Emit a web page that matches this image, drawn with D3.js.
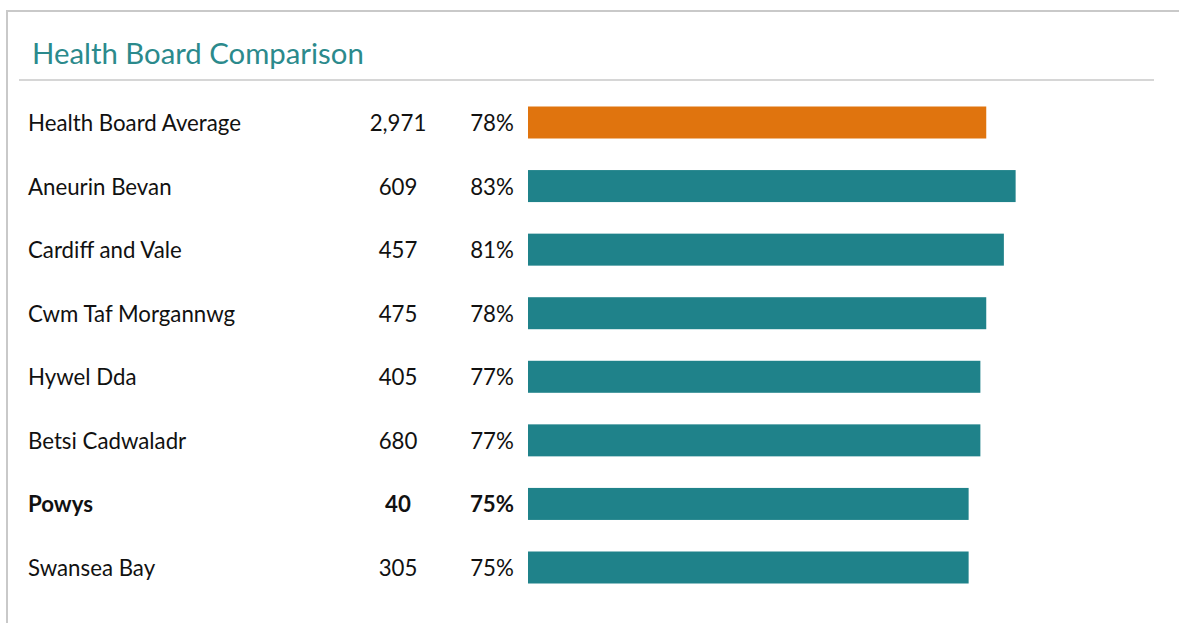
<!DOCTYPE html>
<html>
<head>
<meta charset="utf-8">
<script src="https://cdn.jsdelivr.net/npm/d3@7"></script>
<style>
html,body{margin:0;padding:0;background:#fff;}
svg{display:block;}
</style>
</head>
<body>
<svg id="chart" width="1179" height="623"></svg>
<script>
const title = "Health Board Comparison";
const categories = ["Health Board Average","Aneurin Bevan","Cardiff and Vale","Cwm Taf Morgannwg","Hywel Dda","Betsi Cadwaladr","Powys","Swansea Bay"];
const counts = [2971, 609, 457, 475, 405, 680, 40, 305];
const percents = [78, 83, 81, 78, 77, 77, 75, 75];
const boldCategory = "Powys";
const averageCategory = "Health Board Average";

const FONT = "Lato, 'Open Sans', sans-serif";
const svg = d3.select("#chart");

// frame
svg.append("line").attr("x1",7).attr("x2",1179).attr("y1",11).attr("y2",11)
  .attr("stroke","#c9c9c9").attr("stroke-width",2);
svg.append("line").attr("x1",7).attr("x2",7).attr("y1",10).attr("y2",623)
  .attr("stroke","#c9c9c9").attr("stroke-width",2);
// title underline
svg.append("line").attr("x1",19).attr("x2",1154).attr("y1",80).attr("y2",80)
  .attr("stroke","#c8c8c8").attr("stroke-width",1.5);

function fitSize(text, targetW, weight, base){
  const t = svg.append("text").attr("font-family",FONT).attr("font-size",base)
    .attr("font-weight",weight).text(text);
  const w = t.node().getComputedTextLength();
  t.remove();
  return base*targetW/w;
}

const titleSize = fitSize(title, 332, 400, 26);
svg.append("text").attr("x",32).attr("y",52).attr("dominant-baseline","central")
  .attr("font-family",FONT).attr("font-size",titleSize).attr("fill","#2b8a8c")
  .text(title);

const labelSize = fitSize("Health Board Average", 213, 400, 20);

const y = d3.scalePoint().domain(categories).range([122.5, 567.5]);
const x = d3.scaleLinear().domain([0,100]).range([528, 1115.5]);
const barH = 32;

const rows = categories.map((c,i)=>({name:c,count:counts[i],pct:percents[i]}));
const fmt = d3.format(",");

const g = svg.append("g");
const row = g.selectAll("g.row").data(rows).join("g").attr("class","row");

row.append("text").attr("x",28).attr("y",d=>y(d.name)).attr("dominant-baseline","central")
  .attr("font-family",FONT).attr("font-size",labelSize).attr("fill","#111")
  .attr("font-weight",d=>d.name===boldCategory?700:400).text(d=>d.name);

row.append("text").attr("x",398).attr("y",d=>y(d.name)).attr("dominant-baseline","central")
  .attr("text-anchor","middle")
  .attr("font-family",FONT).attr("font-size",labelSize).attr("fill","#111")
  .attr("font-weight",d=>d.name===boldCategory?700:400).text(d=>fmt(d.count));

row.append("text").attr("x",492).attr("y",d=>y(d.name)).attr("dominant-baseline","central")
  .attr("text-anchor","middle")
  .attr("font-family",FONT).attr("font-size",labelSize).attr("fill","#111")
  .attr("font-weight",d=>d.name===boldCategory?700:400).text(d=>d.pct+"%");

row.append("rect").attr("x",x(0)).attr("y",d=>y(d.name)-barH/2)
  .attr("width",d=>x(d.pct)-x(0)).attr("height",barH)
  .attr("fill",d=>d.name===averageCategory?"#e0740e":"#1f828a");
</script>
</body>
</html>
